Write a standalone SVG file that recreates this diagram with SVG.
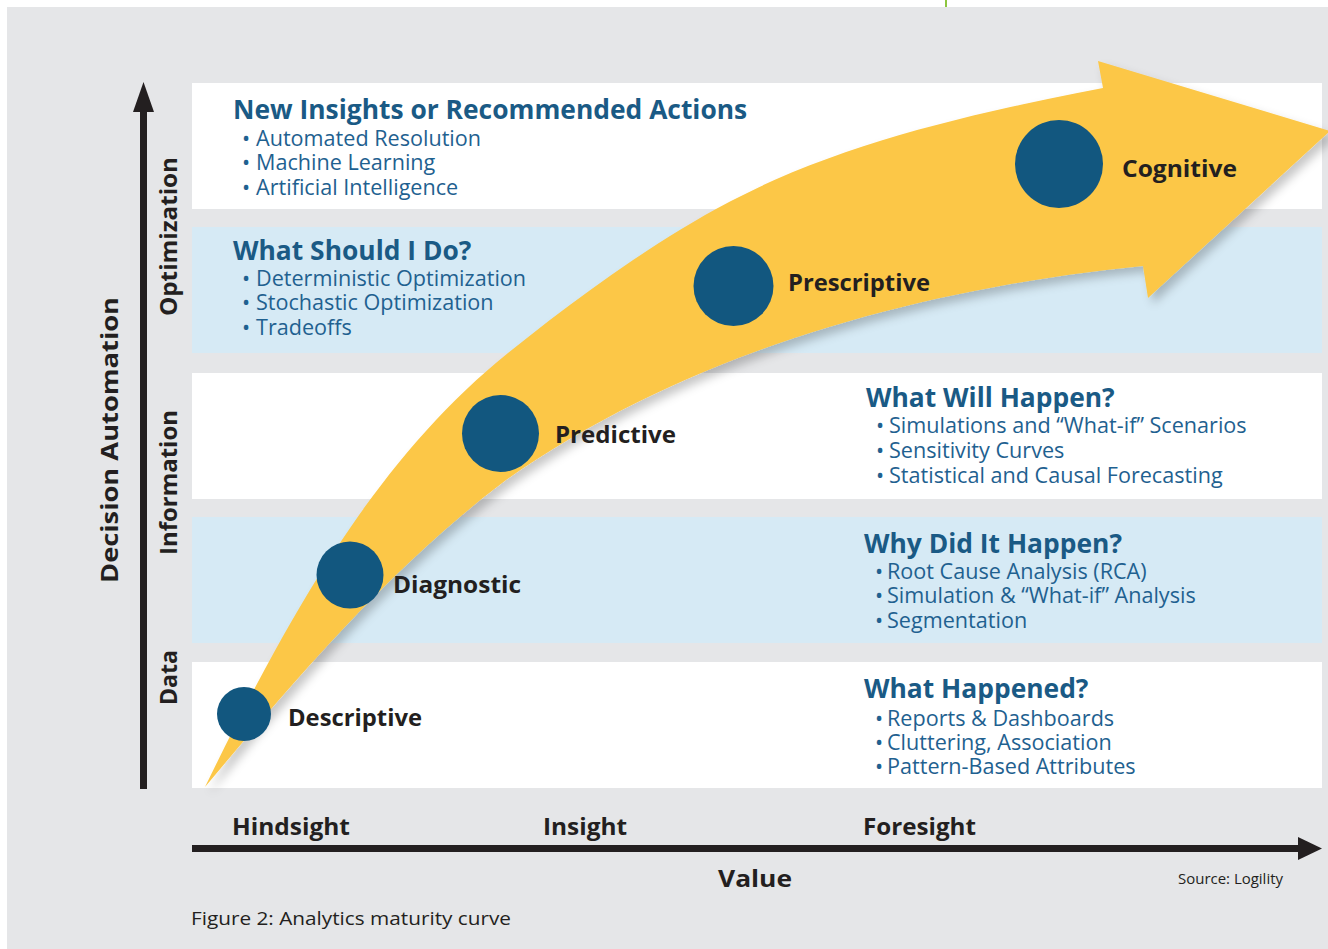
<svg xmlns="http://www.w3.org/2000/svg" width="1328" height="949" viewBox="0 0 1328 949">
  <style>
    .band-w { fill: #ffffff; }
    .band-b { fill: #d6eaf5; }
    .txt { font-family: "Open Sans", "Noto Sans", sans-serif; }
    .head { font-weight: 700; font-size: 26.4px; fill: #1a5a85; }
    .item { font-weight: 400; font-size: 21.6px; fill: #1f6190; }
    .stage { font-family: "Open Sans", "Noto Sans", sans-serif; font-weight: 700; font-size: 24px; fill: #231f20; }
    .axis-lbl { font-family: "Open Sans", "Noto Sans", sans-serif; font-weight: 700; font-size: 24px; fill: #231f20; }
    .stage-dot { fill: #12577f; }
    .axis { stroke: #231f20; stroke-width: 7; fill: none; }
    .axis-head { fill: #231f20; }
  </style>
  <defs>
    <filter id="soft-shadow" x="-10%" y="-10%" width="130%" height="130%">
      <feDropShadow dx="5" dy="6" stdDeviation="5" flood-color="#000000" flood-opacity="0.22"/>
    </filter>
  </defs>

  <!-- page and panel background -->
  <rect x="0" y="0" width="1328" height="949" fill="#ffffff"/>
  <rect x="7" y="7" width="1321" height="942" fill="#e5e6e8"/>
  <rect x="945" y="0" width="2" height="7" fill="#8dc63f"/>

  <!-- horizontal level bands -->
  <g id="band-optimization-top">
    <rect class="band-w" x="192" y="83" width="1130" height="126"/>
  </g>
  <g id="band-optimization">
    <rect class="band-b" x="192" y="227" width="1130" height="126"/>
  </g>
  <g id="band-information-top">
    <rect class="band-w" x="192" y="373" width="1130" height="126"/>
  </g>
  <g id="band-information">
    <rect class="band-b" x="192" y="517" width="1130" height="126"/>
  </g>
  <g id="band-data">
    <rect class="band-w" x="192" y="662" width="1130" height="126"/>
  </g>

  <!-- maturity curve -->
  <g id="maturity-arrow">
    <path filter="url(#soft-shadow)" fill="#fcc747"
      d="M205,787 C297,677 392,566 506,480 C690,351 920,288 1143,266 L1148,298 L1330,131 L1098,61 L1103,88 C971,114 834,144 716,209 C647,247 574,300 508,353 C371,463 282,629 205,787 Z"/>
  </g>

  <!-- band texts: heading plus bullet list, one text block per band -->
  <g id="text-new-insights">
    <text class="txt">
      <tspan class="head" x="233" y="119">New Insights or Recommended Actions</tspan>
      <tspan class="item" x="242" y="146">•</tspan><tspan class="item" x="256" y="146">Automated Resolution</tspan>
      <tspan class="item" x="242" y="170">•</tspan><tspan class="item" x="256" y="170">Machine Learning</tspan>
      <tspan class="item" x="242" y="195">•</tspan><tspan class="item" x="256" y="195">Artificial Intelligence</tspan>
    </text>
  </g>
  <g id="text-what-should">
    <text class="txt">
      <tspan class="head" x="233" y="260">What Should I Do?</tspan>
      <tspan class="item" x="242" y="286">•</tspan><tspan class="item" x="256" y="286">Deterministic Optimization</tspan>
      <tspan class="item" x="242" y="310">•</tspan><tspan class="item" x="256" y="310">Stochastic Optimization</tspan>
      <tspan class="item" x="242" y="335">•</tspan><tspan class="item" x="256" y="335">Tradeoffs</tspan>
    </text>
  </g>
  <g id="text-what-will">
    <text class="txt">
      <tspan class="head" x="866" y="407">What Will Happen?</tspan>
      <tspan class="item" x="876" y="433">•</tspan><tspan class="item" x="889" y="433">Simulations and “What-if” Scenarios</tspan>
      <tspan class="item" x="876" y="458">•</tspan><tspan class="item" x="889" y="458">Sensitivity Curves</tspan>
      <tspan class="item" x="876" y="483">•</tspan><tspan class="item" x="889" y="483">Statistical and Causal Forecasting</tspan>
    </text>
  </g>
  <g id="text-why-did">
    <text class="txt">
      <tspan class="head" x="864" y="553">Why Did It Happen?</tspan>
      <tspan class="item" x="875" y="579">•</tspan><tspan class="item" x="887" y="579">Root Cause Analysis (RCA)</tspan>
      <tspan class="item" x="875" y="603">•</tspan><tspan class="item" x="887" y="603">Simulation &amp; “What-if” Analysis</tspan>
      <tspan class="item" x="875" y="628">•</tspan><tspan class="item" x="887" y="628">Segmentation</tspan>
    </text>
  </g>
  <g id="text-what-happened">
    <text class="txt">
      <tspan class="head" x="864" y="698">What Happened?</tspan>
      <tspan class="item" x="875" y="726">•</tspan><tspan class="item" x="887" y="726">Reports &amp; Dashboards</tspan>
      <tspan class="item" x="875" y="750">•</tspan><tspan class="item" x="887" y="750">Cluttering, Association</tspan>
      <tspan class="item" x="875" y="774">•</tspan><tspan class="item" x="887" y="774">Pattern-Based Attributes</tspan>
    </text>
  </g>

  <!-- stages along the curve -->
  <g id="stage-descriptive">
    <circle class="stage-dot" cx="244" cy="714" r="27"/>
    <text class="stage" x="288" y="726" textLength="134" lengthAdjust="spacingAndGlyphs">Descriptive</text>
  </g>
  <g id="stage-diagnostic">
    <circle class="stage-dot" cx="350" cy="575" r="33.5"/>
    <text class="stage" x="393" y="593" textLength="128" lengthAdjust="spacingAndGlyphs">Diagnostic</text>
  </g>
  <g id="stage-predictive">
    <circle class="stage-dot" cx="500.5" cy="433.5" r="38.5"/>
    <text class="stage" x="555" y="443" textLength="121" lengthAdjust="spacingAndGlyphs">Predictive</text>
  </g>
  <g id="stage-prescriptive">
    <circle class="stage-dot" cx="733.5" cy="286" r="40"/>
    <text class="stage" x="788" y="291" textLength="142" lengthAdjust="spacingAndGlyphs">Prescriptive</text>
  </g>
  <g id="stage-cognitive">
    <circle class="stage-dot" cx="1059" cy="164" r="44"/>
    <text class="stage" x="1122" y="177" textLength="115" lengthAdjust="spacingAndGlyphs">Cognitive</text>
  </g>

  <!-- axes -->
  <g id="axes">
    <line class="axis" x1="143.5" y1="789" x2="143.5" y2="108"/>
    <polygon class="axis-head" points="133,112 143.5,82 154,112"/>
    <line class="axis" x1="192" y1="848.5" x2="1302" y2="848.5"/>
    <polygon class="axis-head" points="1298,837 1322,848.5 1298,860"/>
  </g>

  <!-- axis labels -->
  <g id="y-labels">
    <text class="axis-lbl" transform="translate(118,440) rotate(-90)" text-anchor="middle" font-size="28" textLength="286" lengthAdjust="spacingAndGlyphs">Decision Automation</text>
    <text class="axis-lbl" transform="translate(177,236.5) rotate(-90)" text-anchor="middle" textLength="159" lengthAdjust="spacingAndGlyphs">Optimization</text>
    <text class="axis-lbl" transform="translate(177,482.5) rotate(-90)" text-anchor="middle" textLength="145" lengthAdjust="spacingAndGlyphs">Information</text>
    <text class="axis-lbl" transform="translate(177,677.5) rotate(-90)" text-anchor="middle" textLength="55" lengthAdjust="spacingAndGlyphs">Data</text>
  </g>
  <g id="x-labels">
    <text class="axis-lbl" x="232" y="835" textLength="118" lengthAdjust="spacingAndGlyphs">Hindsight</text>
    <text class="axis-lbl" x="543" y="835" textLength="84" lengthAdjust="spacingAndGlyphs">Insight</text>
    <text class="axis-lbl" x="863" y="835" textLength="113" lengthAdjust="spacingAndGlyphs">Foresight</text>
    <text class="axis-lbl" x="718" y="887" font-size="28" textLength="74" lengthAdjust="spacingAndGlyphs">Value</text>
  </g>

  <!-- source and caption -->
  <g id="notes">
    <text x="1178" y="884" font-family="'Open Sans', 'Noto Sans', sans-serif" font-size="15" fill="#231f20" textLength="105" lengthAdjust="spacingAndGlyphs">Source: Logility</text>
    <text x="191" y="925" font-family="'Open Sans', 'Noto Sans', sans-serif" font-size="19" fill="#231f20" textLength="320" lengthAdjust="spacingAndGlyphs">Figure 2: Analytics maturity curve</text>
  </g>
</svg>
